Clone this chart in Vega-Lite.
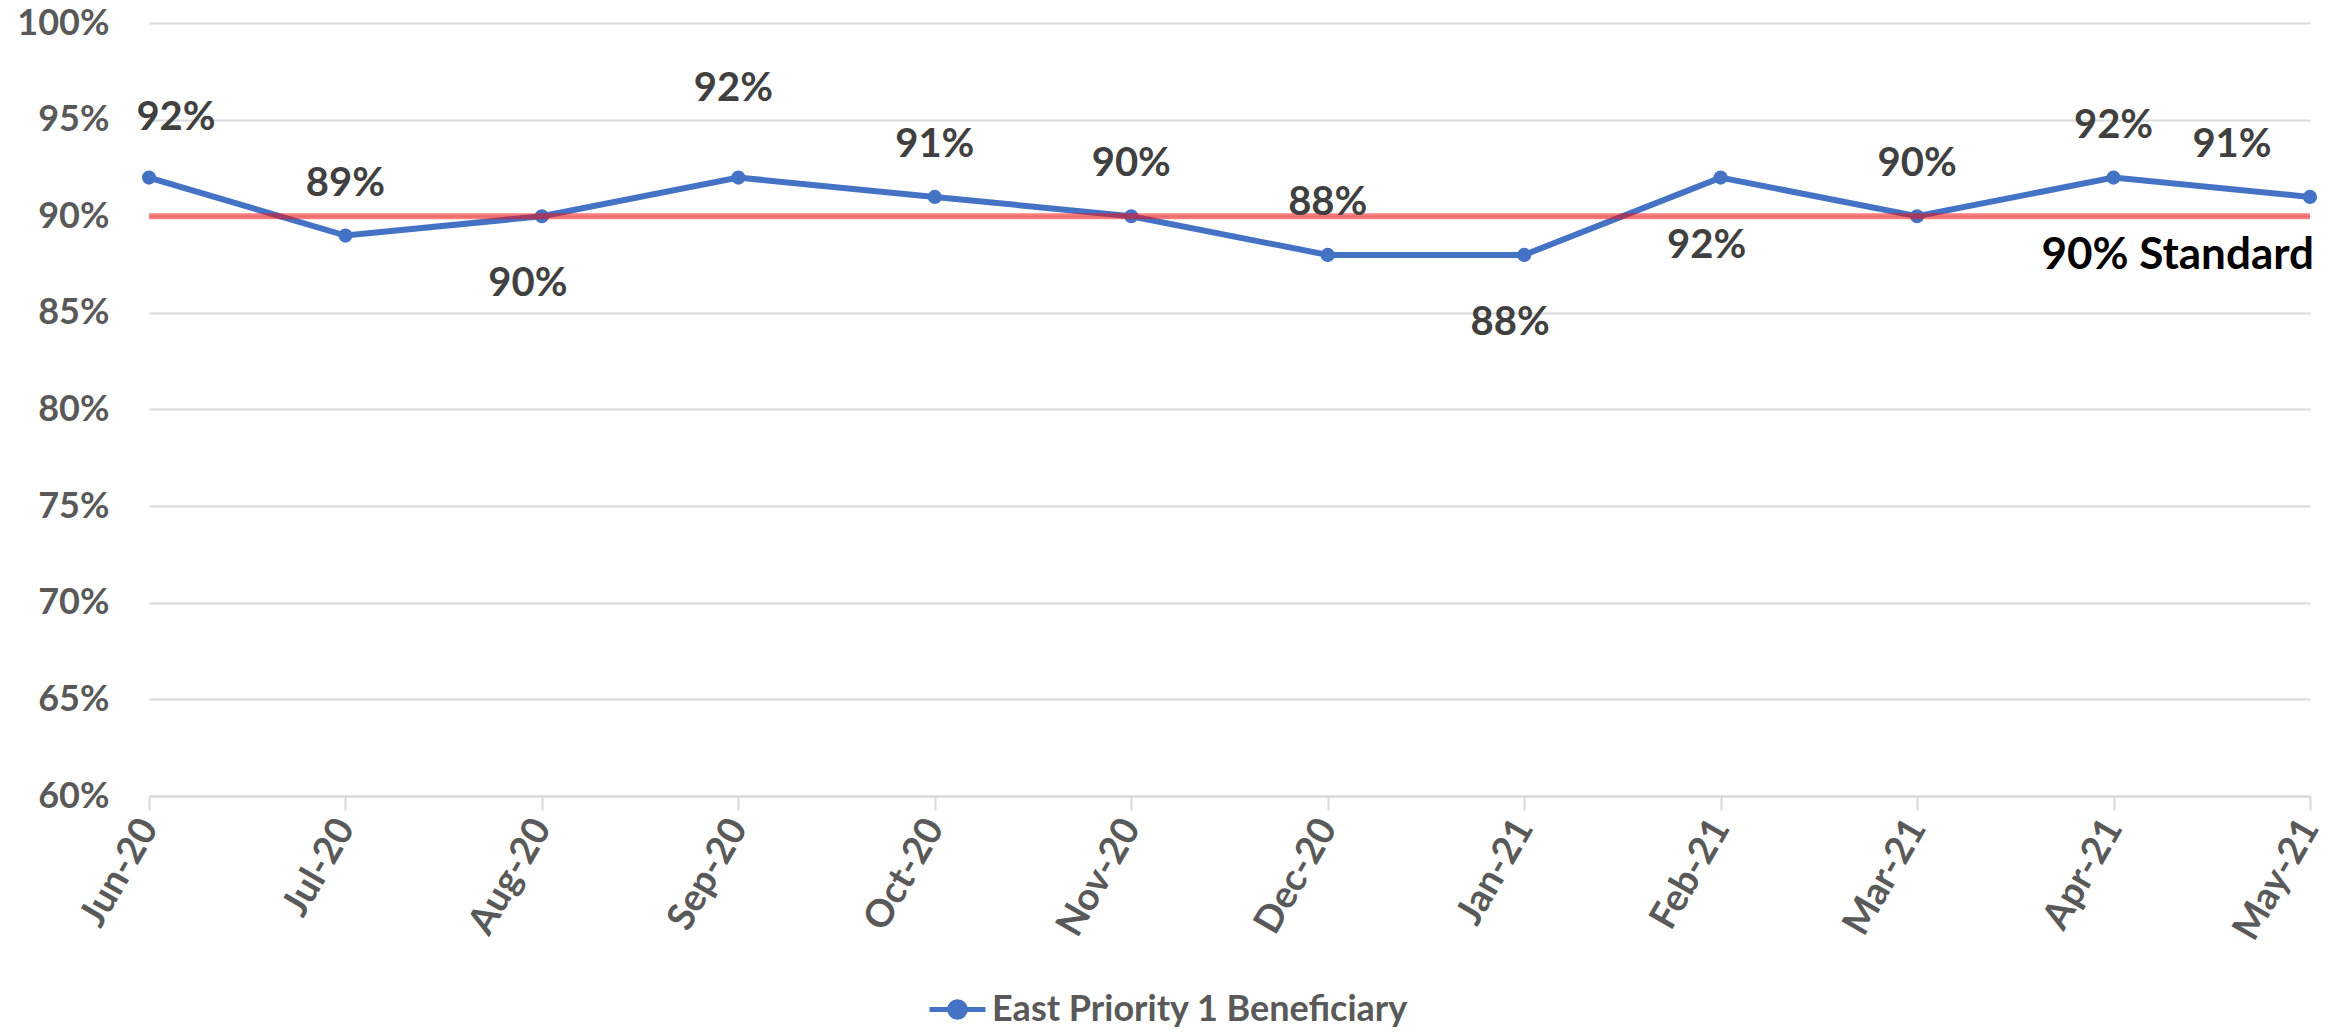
{
  "$schema": "https://vega.github.io/schema/vega-lite/v6.json",
  "width": 2161,
  "height": 773,
  "autosize": {"type": "none"},
  "padding": {"left": 149, "top": 23, "right": 41, "bottom": 238},
  "background": "white",
  "config": {
    "font": "Lato",
    "view": {"stroke": null}
  },
  "datasets": {
    "series": [
      {"month": "Jun-20", "value": 0.92, "series": "East Priority 1 Beneficiary"},
      {"month": "Jul-20", "value": 0.89, "series": "East Priority 1 Beneficiary"},
      {"month": "Aug-20", "value": 0.90, "series": "East Priority 1 Beneficiary"},
      {"month": "Sep-20", "value": 0.92, "series": "East Priority 1 Beneficiary"},
      {"month": "Oct-20", "value": 0.91, "series": "East Priority 1 Beneficiary"},
      {"month": "Nov-20", "value": 0.90, "series": "East Priority 1 Beneficiary"},
      {"month": "Dec-20", "value": 0.88, "series": "East Priority 1 Beneficiary"},
      {"month": "Jan-21", "value": 0.88, "series": "East Priority 1 Beneficiary"},
      {"month": "Feb-21", "value": 0.92, "series": "East Priority 1 Beneficiary"},
      {"month": "Mar-21", "value": 0.90, "series": "East Priority 1 Beneficiary"},
      {"month": "Apr-21", "value": 0.92, "series": "East Priority 1 Beneficiary"},
      {"month": "May-21", "value": 0.91, "series": "East Priority 1 Beneficiary"}
    ],
    "standard": [
      {"month": "May-21", "value": 0.90, "label": "90% Standard"}
    ]
  },
  "encoding": {
    "x": {
      "field": "month",
      "type": "ordinal",
      "scale": {"type": "point", "padding": 0,
        "domain": ["Jun-20","Jul-20","Aug-20","Sep-20","Oct-20","Nov-20","Dec-20","Jan-21","Feb-21","Mar-21","Apr-21","May-21"]},
      "axis": {
        "title": null,
        "labelAngle": -60,
        "labelFontSize": 38,
        "labelFontWeight": "bold",
        "labelColor": "#595959",
        "labelPadding": 12,
        "tickColor": "#D9D9D9",
        "tickWidth": 2,
        "tickSize": 14,
        "domainColor": "#D9D9D9",
        "domainWidth": 2,
        "grid": false
      }
    },
    "y": {
      "field": "value",
      "type": "quantitative",
      "scale": {"domain": [0.6, 1.0], "nice": false, "zero": false},
      "axis": {
        "title": null,
        "format": ".0%",
        "values": [0.6, 0.65, 0.7, 0.75, 0.8, 0.85, 0.9, 0.95, 1.0],
        "labelFontSize": 36,
        "labelFontWeight": "bold",
        "labelColor": "#595959",
        "labelPadding": 40,
        "ticks": false,
        "domain": false,
        "grid": true,
        "gridColor": "#D9D9D9",
        "gridWidth": 2
      }
    }
  },
  "layer": [
    {
      "data": {"name": "series"},
      "mark": {"type": "line", "strokeWidth": 6, "point": {"filled": true, "size": 200}},
      "encoding": {
        "color": {
          "field": "series",
          "type": "nominal",
          "scale": {"range": ["#4472C4"]},
          "legend": {
            "title": null,
            "orient": "none",
            "legendX": 778,
            "legendY": 956,
            "labelFontSize": 36,
            "labelFont": "Lato",
            "labelFontWeight": "bold",
            "labelColor": "#595959",
            "labelLimit": 0,
            "symbolType": "M-1,0H1M-0.28,0A0.28,0.28,0,1,0,0.28,0A0.28,0.28,0,1,0,-0.28,0Z",
            "symbolSize": 3136,
            "symbolStrokeWidth": 5,
            "symbolFillColor": "#4472C4",
            "symbolStrokeColor": "#4472C4",
            "labelOffset": 4
          }
        }
      }
    },
    {
      "data": {"name": "standard"},
      "mark": {"type": "rule", "color": "#FF0000", "opacity": 0.5, "strokeWidth": 6},
      "encoding": {"x": null, "y": {"field": "value", "type": "quantitative"}}
    },
    {
      "data": {"name": "standard"},
      "mark": {"type": "text", "align": "right", "baseline": "middle", "fontSize": 44, "fontWeight": "bold", "color": "#000000", "dy": 40, "dx": 4},
      "encoding": {"text": {"field": "label"}}
    },
    {
      "data": {"name": "series"},
      "transform": [{"filter": {"field": "month", "oneOf": ["Jul-20", "Oct-20", "Nov-20", "Dec-20", "Mar-21", "Apr-21"]}}],
      "mark": {"type": "text", "align": "center", "baseline": "middle", "fontSize": 40, "fontWeight": "bold", "color": "#404040", "dy": -52},
      "encoding": {"text": {"field": "value", "format": ".0%"}}
    },
    {
      "data": {"name": "series"},
      "transform": [{"filter": {"field": "month", "oneOf": ["Jun-20"]}}],
      "mark": {"type": "text", "align": "center", "baseline": "middle", "fontSize": 40, "fontWeight": "bold", "color": "#404040", "dy": -60, "dx": 27},
      "encoding": {"text": {"field": "value", "format": ".0%"}}
    },
    {
      "data": {"name": "series"},
      "transform": [{"filter": {"field": "month", "oneOf": ["Sep-20"]}}],
      "mark": {"type": "text", "align": "center", "baseline": "middle", "fontSize": 40, "fontWeight": "bold", "color": "#404040", "dy": -89, "dx": -5},
      "encoding": {"text": {"field": "value", "format": ".0%"}}
    },
    {
      "data": {"name": "series"},
      "transform": [{"filter": {"field": "month", "oneOf": ["May-21"]}}],
      "mark": {"type": "text", "align": "center", "baseline": "middle", "fontSize": 40, "fontWeight": "bold", "color": "#404040", "dy": -52, "dx": -78},
      "encoding": {"text": {"field": "value", "format": ".0%"}}
    },
    {
      "data": {"name": "series"},
      "transform": [{"filter": {"field": "month", "oneOf": ["Aug-20", "Jan-21", "Feb-21"]}}],
      "mark": {"type": "text", "align": "center", "baseline": "middle", "fontSize": 40, "fontWeight": "bold", "color": "#404040", "dy": 68, "dx": -14},
      "encoding": {"text": {"field": "value", "format": ".0%"}}
    }
  ]
}
